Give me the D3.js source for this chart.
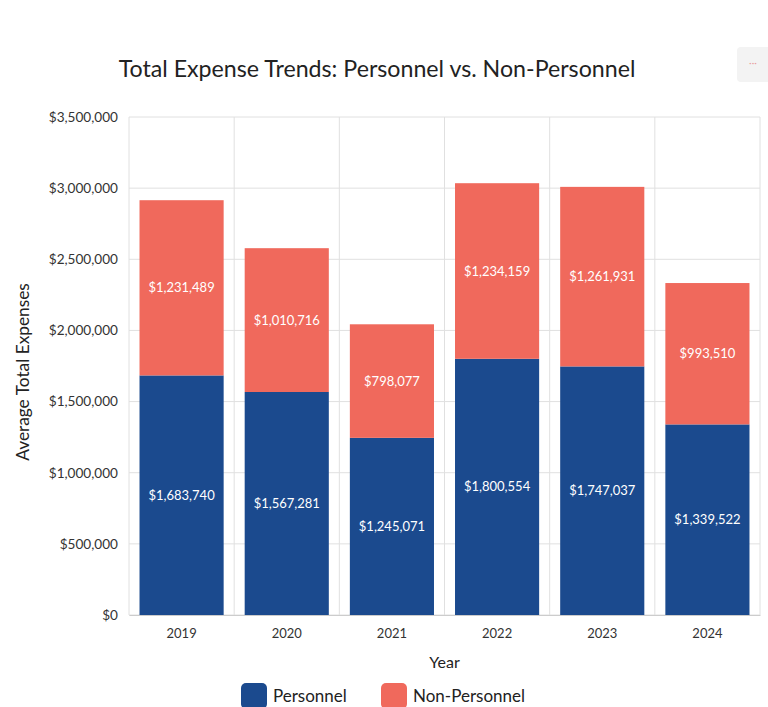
<!DOCTYPE html>
<html><head><meta charset="utf-8">
<script src="https://cdn.jsdelivr.net/npm/d3@7"></script>
<style>
body{margin:0;background:#fff;font-family:Lato,"Open Sans",sans-serif;}
</style></head>
<body>
<svg id="chart" width="768" height="707"></svg>
<script>
const years = ["2019","2020","2021","2022","2023","2024"];
const personnel = [1683740,1567281,1245071,1800554,1747037,1339522];
const nonPersonnel = [1231489,1010716,798077,1234159,1261931,993510];
const yTicks = [0,500000,1000000,1500000,2000000,2500000,3000000,3500000];
const seriesNames = ["Personnel","Non-Personnel"];
const colors = ["#1b4a8e","#f0695c"];

(function(){
const svg = d3.select("#chart");
const pLeft = 129, pRight = 760, pTop = 117, pBottom = 615;
const x = d3.scaleBand().domain(years).range([pLeft,pRight]).paddingInner(0.2).paddingOuter(0.1);
const y = d3.scaleLinear().domain([0,3500000]).range([pBottom,pTop]);
const fmt = d3.format("$,.0f");

// grid
svg.append("g").selectAll("line").data(yTicks).join("line")
  .attr("x1",pLeft).attr("x2",pRight).attr("y1",d=>y(d)).attr("y2",d=>y(d))
  .attr("stroke","#e0e0e0").attr("stroke-width",1);
const step = (pRight-pLeft)/years.length;
const bounds = years.map((d,i)=>pLeft + i*step).concat([pRight]);
svg.append("g").selectAll("line").data(bounds).join("line")
  .attr("x1",d=>d).attr("x2",d=>d).attr("y1",pTop).attr("y2",pBottom)
  .attr("stroke","#e0e0e0").attr("stroke-width",1);

// y axis labels
const ya = svg.append("g").attr("transform",`translate(${pLeft},0)`)
  .call(d3.axisLeft(y).tickValues(yTicks).tickFormat(fmt).tickSize(0).tickPadding(11));
ya.select(".domain").remove();
ya.selectAll("text").attr("font-family","Lato").attr("font-size",13.6).attr("fill","#333");

// x axis
const xa = svg.append("g").attr("transform",`translate(0,${pBottom})`)
  .call(d3.axisBottom(x).tickSize(0).tickPadding(14));
xa.select(".domain").attr("stroke","#ccc");
xa.selectAll("text").attr("font-family","Lato").attr("font-size",13).attr("fill","#333");

// bars
const data = years.map((yr,i)=>({year:yr, p:personnel[i], n:nonPersonnel[i]}));
const g = svg.append("g");
g.selectAll("rect.p").data(data).join("rect").attr("class","p")
  .attr("x",d=>x(d.year)).attr("width",x.bandwidth())
  .attr("y",d=>y(d.p)).attr("height",d=>y(0)-y(d.p)).attr("fill",colors[0]);
g.selectAll("rect.n").data(data).join("rect").attr("class","n")
  .attr("x",d=>x(d.year)).attr("width",x.bandwidth())
  .attr("y",d=>y(d.p+d.n)).attr("height",d=>y(d.p)-y(d.p+d.n)).attr("fill",colors[1]);
g.selectAll("text.p").data(data).join("text").attr("class","p")
  .attr("x",d=>x(d.year)+x.bandwidth()/2).attr("y",d=>(y(0)+y(d.p))/2)
  .attr("dy","0.35em").attr("text-anchor","middle").attr("fill","#fff")
  .attr("font-family","Lato").attr("font-size",13).text(d=>fmt(d.p));
g.selectAll("text.n").data(data).join("text").attr("class","n")
  .attr("x",d=>x(d.year)+x.bandwidth()/2).attr("y",d=>(y(d.p)+y(d.p+d.n))/2)
  .attr("dy","0.35em").attr("text-anchor","middle").attr("fill","#fff")
  .attr("font-family","Lato").attr("font-size",13).text(d=>fmt(d.n));

// title
svg.append("text").attr("x",377).attr("y",77).attr("text-anchor","middle")
  .attr("font-family","Lato").attr("font-size",23.2).attr("fill","#222")
  .text("Total Expense Trends: Personnel vs. Non-Personnel");

// menu button
svg.append("rect").attr("x",737).attr("y",47).attr("width",36).attr("height",35).attr("rx",4).attr("fill","#f3f3f3");
svg.append("text").attr("x",753).attr("y",66).attr("text-anchor","middle").attr("font-family","Lato")
  .attr("font-size",10).attr("fill","#e9a0a0").text("···");

// axis titles
svg.append("text").attr("x",(pLeft+pRight)/2).attr("y",668).attr("text-anchor","middle")
  .attr("font-family","Lato").attr("font-size",16).attr("fill","#222").text("Year");
svg.append("text").attr("transform",`translate(29,${(pTop+pBottom)/2 + 6}) rotate(-90)`)
  .attr("text-anchor","middle").attr("font-family","Lato").attr("font-size",17.3).attr("fill","#222")
  .text("Average Total Expenses");

// legend
const legX = [241,381];
const lg = svg.append("g").selectAll("g").data(seriesNames).join("g")
  .attr("transform",(d,i)=>`translate(${legX[i]},683)`);
lg.append("rect").attr("width",26).attr("height",26).attr("rx",5).attr("fill",(d,i)=>colors[i]);
lg.append("text").attr("x",32).attr("y",19).attr("font-family","Lato").attr("font-size",17)
  .attr("fill","#222").text(d=>d);
})();
</script>
</body></html>
